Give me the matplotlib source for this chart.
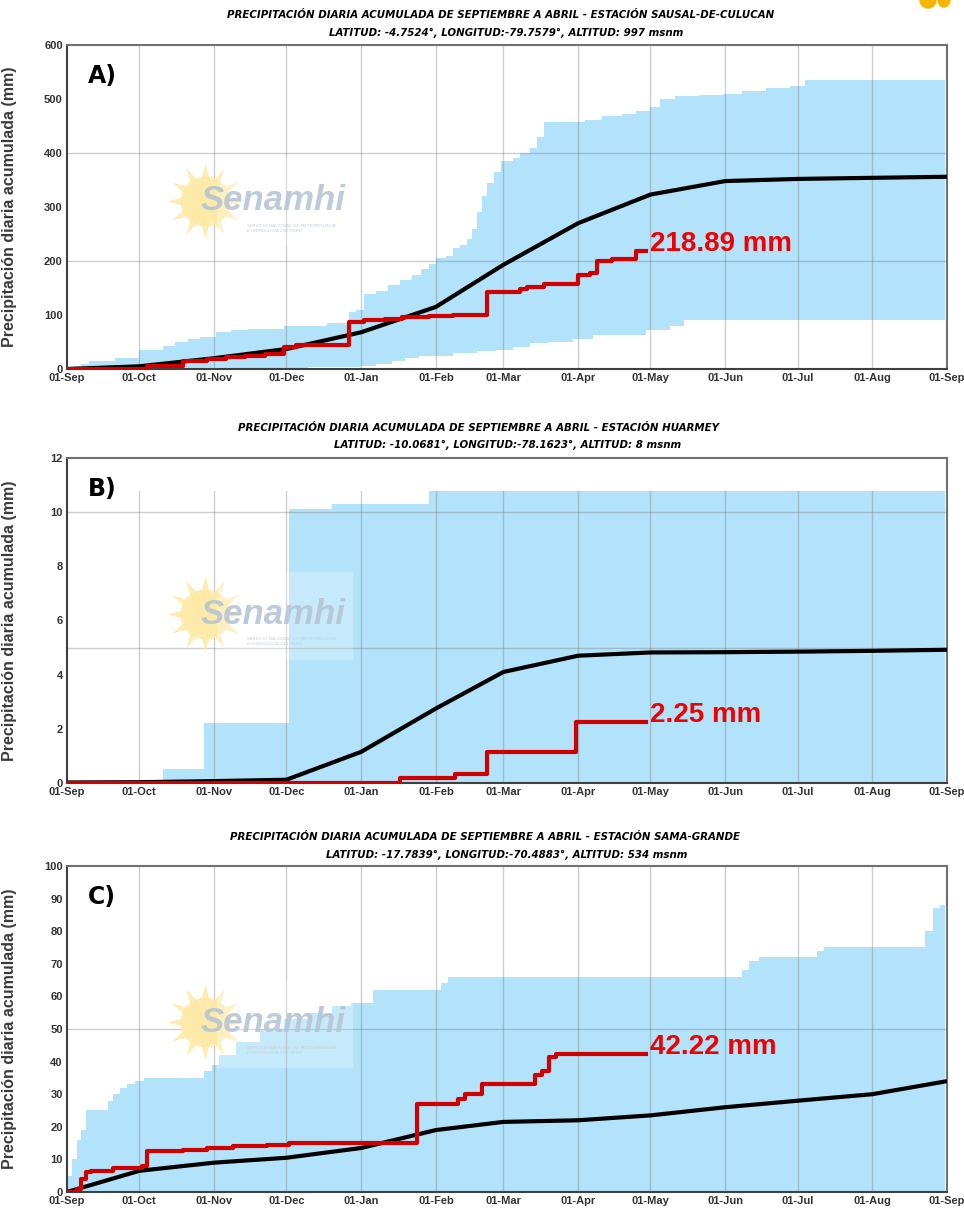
import matplotlib
matplotlib.use("Agg")
import matplotlib.pyplot as plt
from matplotlib.patches import Rectangle, Ellipse

# month starts (day index from 01-Sep)
month_days = [0, 30, 61, 91, 122, 153, 181, 212, 242, 273, 303, 334, 365]
month_labels = ["01-Sep", "01-Oct", "01-Nov", "01-Dec", "01-Jan", "01-Feb", "01-Mar",
                "01-Apr", "01-May", "01-Jun", "01-Jul", "01-Aug", "01-Sep"]

# --- A) Sausal-de-Culucan ---
title_a = "PRECIPITACIÓN DIARIA ACUMULADA DE SEPTIEMBRE A ABRIL - ESTACIÓN SAUSAL-DE-CULUCAN"
sub_a = "LATITUD: -4.7524°, LONGITUD:-79.7579°, ALTITUD: 997 msnm"
mean_a = [0, 5, 20, 37, 68, 115, 193, 270, 323, 348, 352, 354, 356]
upper_days_a = [0, 3, 6, 9, 20, 30, 40, 45, 50, 55, 62, 68, 75, 90, 108, 117, 120, 123, 128,
                133, 138, 143, 147, 150, 153, 157, 160, 163, 166, 168, 170, 172, 174, 177, 180,
                185, 188, 192, 195, 198, 215, 222, 230, 236, 242, 246, 252, 262, 272, 280, 290,
                300, 306, 364]
upper_a = [0, 5, 10, 15, 20, 35, 42, 50, 55, 60, 68, 72, 75, 80, 85, 105, 110, 138, 145,
           155, 165, 175, 185, 195, 205, 210, 225, 230, 240, 260, 290, 320, 345, 365, 385,
           390, 400, 410, 430, 458, 462, 468, 472, 478, 485, 500, 505, 508, 510, 515, 520,
           525, 535, 537]
lower_days_a = [0, 88, 100, 115, 122, 128, 135, 140, 146, 152, 160, 170, 178, 185, 192, 200,
                210, 218, 240, 250, 256, 364]
lower_a = [0, 2, 3, 4, 6, 10, 15, 20, 24, 25, 30, 33, 35, 40, 48, 50, 55, 63, 73, 80, 91, 92]
obs_days_a = [0, 33, 48, 58, 66, 74, 82, 90, 95, 117, 123, 132, 139, 150, 160, 174, 188, 191,
              198, 212, 217, 220, 226, 236, 240]
obs_a = [0, 5, 15, 18, 22, 25, 28, 40, 44, 87, 90, 92, 96, 98, 100, 143, 148, 152, 158, 175,
         178, 200, 203, 218.89, 218.89]
total_a = "218.89 mm"

# --- B) Huarmey ---
title_b = "PRECIPITACIÓN DIARIA ACUMULADA DE SEPTIEMBRE A ABRIL - ESTACIÓN HUARMEY"
sub_b = "LATITUD: -10.0681°, LONGITUD:-78.1623°, ALTITUD: 8 msnm"
mean_b = [0.02, 0.03, 0.07, 0.12, 1.15, 2.75, 4.1, 4.7, 4.82, 4.83, 4.85, 4.88, 4.92]
upper_days_b = [0, 40, 57, 92, 110, 150, 364]
upper_b = [0, 0.5, 2.2, 10.1, 10.3, 10.8, 10.8]
lower_days_b = [0, 364]
lower_b = [0, 0]
obs_days_b = [0, 138, 161, 174, 211, 240]
obs_b = [0, 0.2, 0.35, 1.15, 2.25, 2.25]
total_b = "2.25 mm"

# --- C) Sama-Grande ---
title_c = "PRECIPITACIÓN DIARIA ACUMULADA DE SEPTIEMBRE A ABRIL - ESTACIÓN SAMA-GRANDE"
sub_c = "LATITUD: -17.7839°, LONGITUD:-70.4883°, ALTITUD: 534 msnm"
mean_c = [0, 6.5, 9, 10.5, 13.5, 19, 21.5, 22, 23.5, 26, 28, 30, 34]
upper_days_c = [0, 2, 4, 6, 8, 17, 19, 22, 25, 28, 32, 57, 60, 63, 70, 80, 90, 100, 110, 118,
                127, 155, 158, 280, 283, 287, 311, 314, 356, 359, 362, 364]
upper_c = [5, 10, 16, 19, 25, 28, 30, 32, 33, 34, 35, 37, 39, 42, 46, 50, 53, 55, 57, 58,
           62, 64, 66, 68, 71, 72, 74, 75, 80, 87, 88, 88]
lower_days_c = [0, 364]
lower_c = [0, 0]
obs_days_c = [0, 4, 6, 8, 10, 19, 31, 33, 48, 58, 69, 83, 92, 145, 162, 165, 172, 194, 197,
              200, 203, 240]
obs_c = [0, 1, 4, 6, 6.5, 7.5, 8, 12.5, 13, 13.5, 14, 14.5, 15, 27, 28.5, 30, 33, 36, 37,
         41.5, 42.22, 42.22]
total_c = "42.22 mm"

BLUE = "#b3e3fb"
RED = "#d00000"
GRID = (0.45, 0.45, 0.45, 0.35)
NARROW = ["Liberation Sans Narrow", "DejaVu Sans"]


def band_on_grid(days, vals, grid):
    # step values (post) sampled on common day grid
    out = []
    j = 0
    for d in grid:
        while j + 1 < len(days) and days[j + 1] <= d:
            j += 1
        out.append(vals[j])
    return out


def draw_panel(ax, letter, title, sub, tcx, scx, ylim, yticks, hgrid, vtop,
               mean, ud, up, ld, lo, od, obs, total):
    grid_days = sorted(set(ud) | set(ld))
    up_g = band_on_grid(ud, up, grid_days)
    lo_g = band_on_grid(ld, lo, grid_days)
    ax.fill_between(grid_days, lo_g, up_g, step="post", color=BLUE, lw=0, zorder=1)

    for d in month_days[1:-1]:
        ax.axvline(d, ymax=vtop, color=GRID, lw=1, zorder=1.5)
    for h in hgrid:
        ax.axhline(h, color=GRID, lw=1, zorder=1.5)

    # watermark (sun + name)
    ax.plot(0.157, 0.52, marker=(12, 1, 0), markersize=55, color="#fdeaa8",
            alpha=0.85, transform=ax.transAxes, zorder=1.6, mec="none")
    ax.plot(0.157, 0.52, marker="o", markersize=36, color="#fdeaa8",
            alpha=0.85, transform=ax.transAxes, zorder=1.6, mec="none")
    ax.add_patch(Rectangle((0.17, 0.38), 0.155, 0.27, transform=ax.transAxes,
                           color="white", alpha=0.25, lw=0, zorder=1.7))
    ax.text(0.234, 0.52, "Senamhi", transform=ax.transAxes, ha="center", va="center",
            fontsize=25, fontweight="bold", fontstyle="italic", color="#b5c5d5",
            alpha=0.9, zorder=1.8, family="Liberation Sans")
    ax.text(0.205, 0.435, "SERVICIO NACIONAL DE METEOROLOGÍA\nE HIDROLOGÍA DEL PERÚ",
            transform=ax.transAxes, ha="left", va="center", fontsize=3.2,
            color="#c5cfd9", zorder=1.8, fontstyle="italic", linespacing=1.3)

    ax.plot(month_days, mean, color="black", lw=3, zorder=3, solid_capstyle="butt")
    ax.plot(od, obs, color=RED, lw=3, drawstyle="steps-post", zorder=4)
    ax.annotate(total, (od[-1], obs[-1]), xytext=(3, 5), textcoords="offset points",
                ha="left", va="center", color="#f00000", fontsize=20, fontweight="bold",
                family="Liberation Sans", zorder=5)

    ax.set_xlim(0, 365)
    ax.set_ylim(*ylim)
    ax.set_xticks(month_days)
    ax.set_xticklabels(month_labels)
    ax.set_yticks(yticks)
    ax.tick_params(length=0, pad=3, labelsize=8, labelcolor="#333333")
    for lab in ax.get_xticklabels() + ax.get_yticklabels():
        lab.set_fontweight("bold")
        lab.set_family("Liberation Sans")
    for s in ax.spines.values():
        s.set_color("#707070")
        s.set_linewidth(1.5)
    ax.spines["left"].set_color("#404040")
    ax.spines["bottom"].set_color("#404040")

    ax.set_ylabel("Precipitación diaria acumulada (mm)", fontsize=11.5, fontweight="bold",
                  color="#3a3a3a", family="Liberation Sans")
    ax.yaxis.set_label_coords(-0.057, 0.5)
    ax.text(0.024, 0.905, letter, transform=ax.transAxes, fontsize=17, fontweight="bold",
            ha="left", va="center", family=NARROW)

    fig = ax.figure
    fig.text(tcx[0] / 964, 1 - tcx[1] / 1209, title, ha="center", va="center",
             fontsize=7.4, fontweight="bold", fontstyle="italic", family=NARROW)
    fig.text(scx[0] / 964, 1 - scx[1] / 1209, sub, ha="center", va="center",
             fontsize=7.4, fontweight="bold", fontstyle="italic", family=NARROW)


fig = plt.figure(figsize=(9.64, 12.09), dpi=100)
W, H = 964, 1209
axes_px = [(45, 369), (458, 783), (866, 1192)]
axs = [fig.add_axes([67 / W, 1 - b / H, 880 / W, (b - t) / H]) for t, b in axes_px]

draw_panel(axs[0], "A)", title_a, sub_a, (501, 15), (506, 33), (0, 600),
           range(0, 601, 100), [200, 400], 1.0,
           mean_a, upper_days_a, upper_a, lower_days_a, lower_a, obs_days_a, obs_a, total_a)
draw_panel(axs[1], "B)", title_b, sub_b, (478, 428), (508, 445), (0, 12),
           range(0, 13, 2), [5, 10], 10.8 / 12,
           mean_b, upper_days_b, upper_b, lower_days_b, lower_b, obs_days_b, obs_b, total_b)
draw_panel(axs[2], "C)", title_c, sub_c, (485, 837), (507, 855), (0, 100),
           range(0, 101, 10), [50], 1.0,
           mean_c, upper_days_c, upper_c, lower_days_c, lower_c, obs_days_c, obs_c, total_c)

# cut-off logo in the top right corner
fig.patches.append(Ellipse((928 / W, 1.0), 16 / W, 16 / H, transform=fig.transFigure,
                           color="#f7b500", figure=fig))
fig.patches.append(Ellipse((944 / W, 1.0), 12 / W, 14 / H, transform=fig.transFigure,
                           color="#f7b500", figure=fig))

fig.savefig("out.png", dpi=100)
